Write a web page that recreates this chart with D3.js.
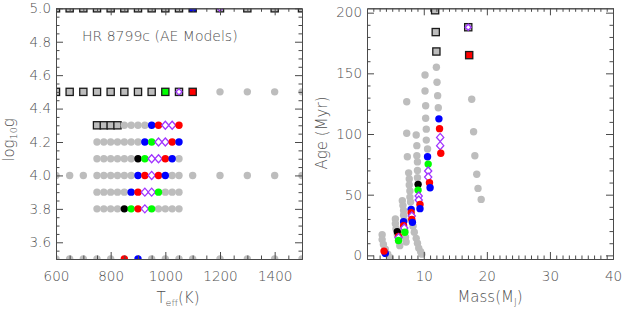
<!DOCTYPE html>
<html>
<head>
<meta charset="utf-8">
<script src="https://cdn.jsdelivr.net/npm/d3@7"></script>
<style>
  body { margin: 0; background: #fff; }
  svg text { font-family: "DejaVu Sans", "Liberation Sans", Arial, sans-serif; font-weight: 200; fill: #505050; }
  .axis path, .axis line { stroke: #4a4a4a; stroke-width: 1; }
</style>
</head>
<body>
<svg id="chart" width="623" height="312"></svg>
<script>
// marker codes: g gray, k black, G green, r red, b blue, p purple diamond; "S" prefix = square
var teff50 = [600, 650, 700, 750, 800, 850, 900, 950, 1000, 1050, 1100, 1200, 1300, 1400, 1500];
var mark50 = ["Sg","Sg","Sg","Sg","Sg","Sg","Sg","Sg","Sg","Sg","Sb","Sp","Sg","Sg","Sg"];
var teff45 = [600, 650, 700, 750, 800, 850, 900, 950, 1000, 1050, 1100, 1200, 1300, 1400, 1500];
var mark45 = ["Sg","Sg","Sg","Sg","Sg","Sg","Sg","Sg","SG","Sp","Sr","g","g","g","g"];
var teffFine = [750, 775, 800, 825, 850, 875, 900, 925, 950, 975, 1000, 1025, 1050];
var mark43 = ["Sg","Sg","Sg","Sg","g","g","g","g","b","r","p","p","r"];
var mark42 = ["g","g","g","g","g","g","g","b","G","p","p","r","b"];
var mark41 = ["g","g","g","g","g","g","k","G","p","p","r","b","g"];
var teff40 = [600, 650, 700, 750, 775, 800, 825, 850, 875, 900, 925, 950, 975, 1000, 1025, 1050, 1100, 1200, 1300, 1400, 1500];
var mark40 = ["g","g","g","g","g","g","g","g","g","b","r","p","r","b","g","g","g","g","g","g","g"];
var mark39 = ["g","g","g","g","g","b","r","p","p","G","g","g","g"];
var mark38 = ["g","g","g","g","k","G","r","p","G","g","g","g","g"];
var teff35 = [600, 650, 700, 750, 800, 850, 900, 950, 1000, 1050, 1100, 1200, 1300, 1400, 1500];
var mark35 = ["g","g","g","g","g","r","b","g","g","g","g","g","g","g","g"];

var loggRows = [5.0, 4.5, 4.3, 4.2, 4.1, 4.0, 3.9, 3.8, 3.5];
var teffRows = [teff50, teff45, teffFine, teffFine, teffFine, teff40, teffFine, teffFine, teff35];
var markRows = [mark50, mark45, mark43, mark42, mark41, mark40, mark39, mark38, mark35];

// right panel: mass (MJ), age (Myr), marker
var massPts = [12.0, 12.1, 12.2, 12.3, 10.2, 10.2, 10.3, 10.3, 10.4, 10.4, 10.6,
  7.3, 7.3, 7.4, 8.8, 8.9, 8.9, 9.0, 9.0, 9.0,
  17.6, 17.9, 18.1, 18.4, 18.6, 19.1,
  3.4, 3.4, 3.6, 3.9, 4.3, 4.7,
  5.5, 5.5, 5.6, 5.8, 6.0, 6.2,
  6.6, 6.7, 6.8, 6.8, 6.9, 7.0, 7.1, 7.2,
  7.6, 7.7, 7.7, 7.8, 7.8, 7.9,
  8.3, 8.5, 8.8, 9.0, 9.2, 9.5, 9.7,
  12.4, 12.5, 12.6, 12.6, 12.7,
  10.6, 10.7, 10.7, 10.7, 10.9, 11.0,
  9.1, 9.1, 9.2, 9.2, 9.4, 9.4,
  8.0, 8.0, 8.1, 8.1, 8.2,
  6.8, 6.8, 6.9, 7.0,
  5.8, 6.0, 6.0, 6.0,
  3.9, 3.7,
  11.8, 11.9, 12.0, 17.05, 17.2];
var agePts = [155, 142.6, 131.6, 121.7, 148.6, 135.4, 123.3, 113, 104, 95, 87.6,
  126.6, 100.6, 81.3, 99.2, 90.4, 82.1, 77, 70, 64,
  128.6, 101.9, 82.1, 66.8, 55.2, 46.1,
  17, 13, 9, 5, 1, -2,
  30, 26, 22, 17, 12, 8,
  45, 41, 37, 33, 29, 20, 15, 11,
  68, 63, 58, 53, 48, 44,
  24, 19, 14, 10, 6, 3, 1,
  112.5, 104.4, 97.2, 90.4, 84.1,
  81.3, 75.2, 69.5, 64.5, 59.9, 55.7,
  58.5, 53.8, 48.9, 45.6, 42, 38.5,
  37.9, 35.2, 32.4, 29.6, 27.2,
  27.7, 24.5, 22.5, 19,
  19.5, 15.6, 14.6, 12.2,
  1.6, 3.5,
  202, 184, 168, 188, 165];
var markPts = ["g","g","g","g","g","g","g","g","g","g","g",
  "g","g","g","g","g","g","g","g","g",
  "g","g","g","g","g","g",
  "g","g","g","g","g","g",
  "g","g","g","g","g","g",
  "g","g","g","g","g","g","g","g",
  "g","g","g","g","g","g",
  "g","g","g","g","g","g","g",
  "b","r","p","p","r",
  "b","G","p","p","r","b",
  "k","G","p","p","r","b",
  "b","r","p","r","b",
  "b","r","p","G",
  "k","r","p","G",
  "b","r",
  "Sg","Sg","Sg","Sp","Sr"];

var colors = {g: "#bdbdbd", k: "#000000", G: "#00ff00", r: "#ff0000", b: "#0000ff"};
var purple = "#a135ff";

var svg = d3.select("#chart");
var plotTop = 8.3, plotBottom = 259;

function drawMark(g, cx, cy, code) {
  var sq = code.charAt(0) == "S";
  var c = sq ? code.charAt(1) : code;
  if (sq) {
    g.append("rect").attr("x", cx - 3.6).attr("y", cy - 3.6).attr("width", 7.2).attr("height", 7.2)
      .attr("fill", c == "p" ? colors.g : colors[c]).attr("stroke", "#1a1a1a").attr("stroke-width", 1.3);
    if (c == "p") {
      g.append("path").attr("d", "M" + cx + "," + (cy - 3) + "L" + (cx + 3) + "," + cy + "L" + cx + "," + (cy + 3) + "L" + (cx - 3) + "," + cy + "Z")
        .attr("fill", "#fff").attr("stroke", purple).attr("stroke-width", 1.3);
    }
  } else if (c == "p") {
    g.append("path").attr("d", "M" + cx + "," + (cy - 4) + "L" + (cx + 3.6) + "," + cy + "L" + cx + "," + (cy + 4) + "L" + (cx - 3.6) + "," + cy + "Z")
      .attr("fill", "#fff").attr("stroke", purple).attr("stroke-width", 1.3);
  } else {
    g.append("circle").attr("cx", cx).attr("cy", cy).attr("r", 3.7).attr("fill", colors[c]);
  }
}

function frame(x, y, xMajor, xMinor, yMajor, yMinor, xFmt, yFmt) {
  var l = x.range()[0], r = x.range()[1];
  function ax(axis, tx, ty) {
    svg.append("g").attr("class", "axis").attr("transform", "translate(" + tx + "," + ty + ")").call(axis)
      .call(function(s) { s.selectAll("text").style("font-size", "13.5px"); });
  }
  ax(d3.axisBottom(x).tickValues(xMinor).tickSizeInner(-3.5).tickSizeOuter(0).tickFormat(""), 0, plotBottom);
  ax(d3.axisBottom(x).tickValues(xMajor).tickSizeInner(-7).tickSizeOuter(0).tickPadding(12).tickFormat(xFmt), 0, plotBottom);
  ax(d3.axisTop(x).tickValues(xMinor).tickSizeInner(-3.5).tickSizeOuter(0).tickFormat(""), 0, plotTop);
  ax(d3.axisTop(x).tickValues(xMajor).tickSizeInner(-7).tickSizeOuter(0).tickFormat(""), 0, plotTop);
  ax(d3.axisLeft(y).tickValues(yMinor).tickSizeInner(-3.5).tickSizeOuter(0).tickFormat(""), l, 0);
  ax(d3.axisLeft(y).tickValues(yMajor).tickSizeInner(-7).tickSizeOuter(0).tickPadding(5).tickFormat(yFmt), l, 0);
  ax(d3.axisRight(y).tickValues(yMinor).tickSizeInner(-3.5).tickSizeOuter(0).tickFormat(""), r, 0);
  ax(d3.axisRight(y).tickValues(yMajor).tickSizeInner(-7).tickSizeOuter(0).tickFormat(""), r, 0);
}

// ---- left panel: log g vs Teff
var xL = d3.scaleLinear().domain([600, 1500]).range([56, 302]);
var yL = d3.scaleLinear().domain([3.5, 5.0]).range([plotBottom, plotTop]);

svg.append("clipPath").attr("id", "clipL").append("rect")
  .attr("x", 56).attr("y", plotTop).attr("width", 246).attr("height", plotBottom - plotTop);
var gL = svg.append("g").attr("clip-path", "url(#clipL)");
// gray first, colored on top
[false, true].forEach(function(colored) {
  loggRows.forEach(function(lg, i) {
    teffRows[i].forEach(function(t, j) {
      var m = markRows[i][j];
      var isGray = m == "g" || m == "Sg";
      if (isGray != colored) drawMark(gL, xL(t), yL(lg), m);
    });
  });
});

frame(xL, yL, [600, 800, 1000, 1200, 1400],
  [650, 700, 750, 850, 900, 950, 1050, 1100, 1150, 1250, 1300, 1350, 1450],
  [3.6, 3.8, 4.0, 4.2, 4.4, 4.6, 4.8, 5.0],
  [3.55, 3.65, 3.7, 3.75, 3.85, 3.9, 3.95, 4.05, 4.1, 4.15, 4.25, 4.3, 4.35, 4.45, 4.5, 4.55, 4.65, 4.7, 4.75, 4.85, 4.9, 4.95],
  d3.format("d"), d3.format(".1f"));

svg.append("text").attr("x", 82).attr("y", 40.5).style("font-size", "14px").text("HR 8799c (AE Models)");

var tl = svg.append("text").attr("x", 178).attr("y", 303).attr("text-anchor", "middle").style("font-size", "15px");
tl.append("tspan").text("T");
tl.append("tspan").attr("dy", 3).style("font-size", "9.5px").text("eff");
tl.append("tspan").attr("dy", -3).text("(K)");

var ll = svg.append("text").attr("transform", "translate(14,140) rotate(-90)").attr("text-anchor", "middle").style("font-size", "15px");
ll.append("tspan").text("log");
ll.append("tspan").attr("dy", 3).style("font-size", "9.5px").text("10");
ll.append("tspan").attr("dy", -3).text("g");

// ---- right panel: age vs mass
var xR = d3.scaleLinear().domain([1, 40]).range([367, 613]);
var yR = d3.scaleLinear().domain([-3, 203.6]).range([plotBottom, plotTop]);

svg.append("clipPath").attr("id", "clipR").append("rect")
  .attr("x", 367).attr("y", plotTop).attr("width", 246).attr("height", plotBottom - plotTop);
var gR = svg.append("g").attr("clip-path", "url(#clipR)");
massPts.forEach(function(m, i) {
  drawMark(gR, xR(m), yR(agePts[i]), markPts[i]);
});

var minorMass = [];
for (var k = 2; k < 40; k++) if (k % 10) minorMass.push(k);
frame(xR, yR, [10, 20, 30, 40], minorMass,
  [0, 50, 100, 150, 200],
  [10, 20, 30, 40, 60, 70, 80, 90, 110, 120, 130, 140, 160, 170, 180, 190],
  d3.format("d"), d3.format("d"));

var ml = svg.append("text").attr("x", 490).attr("y", 302).attr("text-anchor", "middle").style("font-size", "15px");
ml.append("tspan").text("Mass(M");
ml.append("tspan").attr("dy", 3).style("font-size", "9.5px").text("J");
ml.append("tspan").attr("dy", -3).text(")");

svg.append("text").attr("transform", "translate(327,133) rotate(-90)").attr("text-anchor", "middle")
  .style("font-size", "15px").text("Age (Myr)");
</script>
</body>
</html>
